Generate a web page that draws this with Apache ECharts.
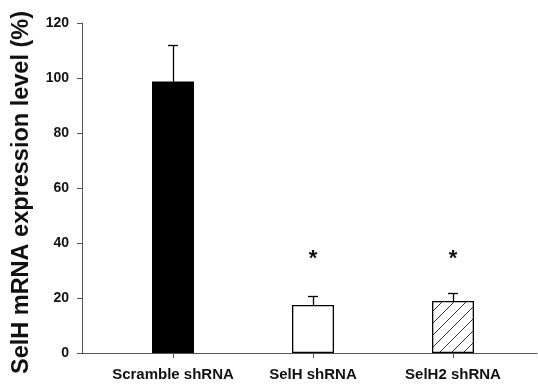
<!DOCTYPE html>
<html>
<head>
<meta charset="utf-8">
<script src="https://cdn.jsdelivr.net/npm/echarts@6/dist/echarts.min.js"></script>
<style>
  html, body { margin: 0; padding: 0; background: #fff; }
  #chart { width: 538px; height: 384px; }
</style>
</head>
<body>
<div id="chart"></div>
<script>
// Relative SelH mRNA expression after shRNA knockdown
const categories = ['Scramble shRNA', 'SelH shRNA', 'SelH2 shRNA'];
const means = [98.7, 17.5, 18.9];
const errorTops = [112, 20.7, 21.8];
const significance = ['', '*', '*'];
const significanceLevel = 35.6;
const yTicks = [0, 20, 40, 60, 80, 100, 120];

// diagonal hatch fill for the third bar
function hatchPattern() {
  const size = 12;
  const c = document.createElement('canvas');
  c.width = size; c.height = size;
  const g = c.getContext('2d');
  g.fillStyle = '#fff';
  g.fillRect(0, 0, size, size);
  g.strokeStyle = '#333';
  g.lineWidth = 1;
  g.beginPath();
  g.moveTo(0, size); g.lineTo(size, 0);
  g.moveTo(-size / 2, size / 2); g.lineTo(size / 2, -size / 2);
  g.moveTo(size / 2, size + size / 2); g.lineTo(size + size / 2, size / 2);
  g.stroke();
  return c;
}

const fills = ['#000', '#fff', { image: hatchPattern(), repeat: 'repeat' }];
const FONT = '"Liberation Sans", Arial, sans-serif';
const positions = categories.map((_, i) => i);
const capHalf = 0.036; // half cap width in axis units

// whisker segments (stem + cap) for each bar
const whiskers = [];
means.forEach((m, i) => {
  whiskers.push([{ coord: [i, m] }, { coord: [i, errorTops[i]] }]);
  whiskers.push([{ coord: [i - capHalf, errorTops[i]] }, { coord: [i + capHalf, errorTops[i]] }]);
});

const chart = echarts.init(document.getElementById('chart'));
chart.setOption({
  animation: false,
  grid: { left: 82, right: 1, top: 23, bottom: 31, containLabel: false },
  xAxis: {
    type: 'value',
    min: -0.65,
    max: 2.6,
    axisLine: { show: true, onZero: false, lineStyle: { color: '#555', width: 1 } },
    axisTick: { show: true, length: 5, customValues: positions, lineStyle: { color: '#555' } },
    splitLine: { show: false },
    axisLabel: {
      customValues: positions,
      formatter: v => categories[Math.round(v)] || '',
      margin: 14,
      color: '#111',
      fontFamily: FONT,
      fontWeight: 'bold',
      fontSize: 15
    }
  },
  yAxis: {
    type: 'value',
    min: yTicks[0],
    max: yTicks[yTicks.length - 1],
    interval: 20,
    name: 'SelH mRNA expression level (%)',
    nameLocation: 'middle',
    nameGap: 48,
    nameTextStyle: { color: '#111', fontFamily: FONT, fontWeight: 'bold', fontSize: 23.5, padding: [0, 9, 0, 0] },
    axisLine: { show: true, onZero: false, lineStyle: { color: '#555', width: 1 } },
    axisTick: { show: true, length: 5, lineStyle: { color: '#555' } },
    splitLine: { show: false },
    axisLabel: { margin: 13, color: '#111', fontFamily: FONT, fontWeight: 'bold', fontSize: 14 }
  },
  series: [
    {
      type: 'bar',
      barWidth: 42,
      data: means.map((v, i) => ({
        value: [i, v],
        itemStyle: { color: fills[i], borderColor: '#000', borderWidth: 1.3 }
      })),
      markLine: {
        silent: true,
        symbol: 'none',
        label: { show: false },
        lineStyle: { color: '#000', width: 1.3, type: 'solid' },
        emphasis: { disabled: true },
        data: whiskers,
        z: 1
      },
      z: 3
    },
    {
      // significance markers
      type: 'custom',
      data: significance.map((s, i) => [i, significanceLevel]),
      renderItem: (params, api) => {
        const i = params.dataIndex;
        const p = api.coord([i, significanceLevel]);
        return {
          type: 'text',
          style: {
            x: p[0], y: p[1] + 4,
            text: significance[i],
            align: 'center', verticalAlign: 'middle',
            font: 'bold 22px ' + FONT,
            fill: '#111'
          }
        };
      },
      z: 4
    }
  ]
});
</script>
</body>
</html>
